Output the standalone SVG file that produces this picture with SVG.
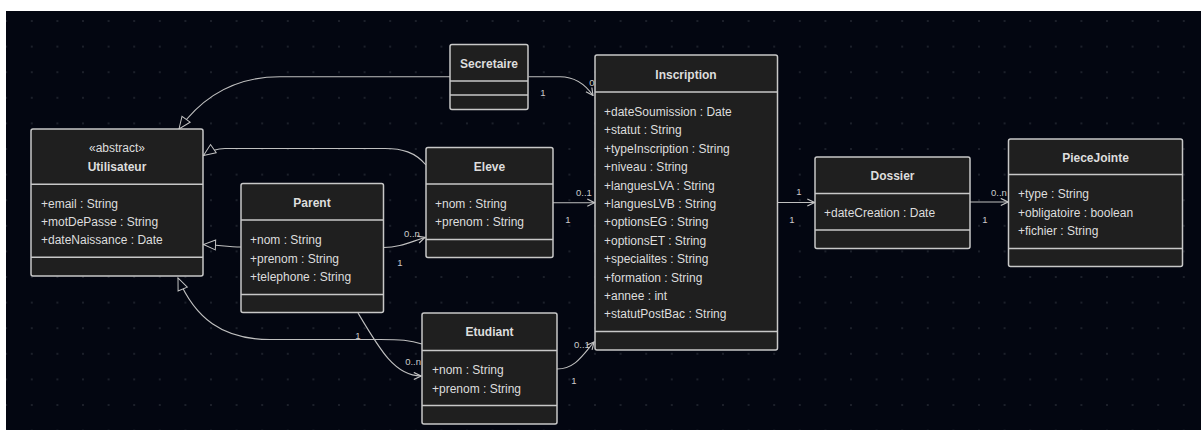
<svg xmlns="http://www.w3.org/2000/svg" width="1201" height="430" viewBox="0 0 1201 430">
<defs>
<pattern id="dots" x="19" y="8.2" width="25.6" height="25.6" patternUnits="userSpaceOnUse">
<circle cx="12.8" cy="12.8" r="0.9" fill="#262a35"/>
</pattern>
<marker id="tri" viewBox="0 0 14 12" refX="13" refY="6" markerWidth="14" markerHeight="12" markerUnits="userSpaceOnUse" orient="auto">
<path d="M1,1 L13,6 L1,11 Z" fill="#030611" stroke="#c4c4c4" stroke-width="1"/>
</marker>
<marker id="arr" viewBox="0 0 10 10" refX="9" refY="5" markerWidth="9" markerHeight="9" markerUnits="userSpaceOnUse" orient="auto">
<path d="M1,1 L9,5 L1,9" fill="none" stroke="#c4c4c4" stroke-width="1.3"/>
</marker>
</defs>
<style>
.bg{fill:#030611}
.node rect{fill:#1f1f1f;stroke:#c8c8c8;stroke-width:1.5}
.node line{stroke:#c8c8c8;stroke-width:1.5}
.t{font-family:"Liberation Sans",Arial,sans-serif;font-size:12px;fill:#dddddd}
.b{font-weight:bold;text-anchor:middle}
.m{text-anchor:middle}
.e{fill:none;stroke:#c0c0c0;stroke-width:1.1}
.inh{marker-end:url(#tri)}
.asc{marker-end:url(#arr)}
.lbl{font-family:"Liberation Sans",Arial,sans-serif;font-size:9.5px;fill:#cccccc}
</style>
<rect x="6" y="11" width="1195" height="419" class="bg"/>
<rect x="6" y="11" width="1195" height="419" fill="url(#dots)"/>

<g id="connectors">
<path class="e inh" d="M450,76.7 L280,76.7 C232,76.7 200,100 179,129"/>
<path class="e inh" d="M426,165 C415,152 402,148.5 385,148.5 L225,148.5 C216,148.5 210,151 203.5,155.5"/>
<path class="e inh" d="M241,247 C228,247 218,245 203.5,244.5"/>
<path class="e inh" d="M422,344 C410,340 400,339.5 380,339.5 L270,339.5 C222,339.5 195,318 178,278"/>
<path class="e asc" d="M358,313 C380,350 395,376 421,376"/>
<path class="e asc" d="M383.5,247.5 C400,247.5 410,242 425,237.5"/>
<path class="e asc" d="M553,202.7 L594.5,202.7"/>
<path class="e asc" d="M557,369 C575,369 583,355 594,342"/>
<path class="e asc" d="M528.5,76.7 L560,76.7 C575,76.7 585,84 593,95.5"/>
<path class="e asc" d="M777.5,202.5 L814.5,202.5"/>
<path class="e asc" d="M970,202 L1008,202"/>
<g id="edge-labels">
<text class="lbl m" x="592" y="86">0</text>
<text class="lbl m" x="543" y="96">1</text>
<text class="lbl m" x="584" y="196">0..1</text>
<text class="lbl m" x="568" y="223">1</text>
<text class="lbl m" x="412" y="237">0..n</text>
<text class="lbl m" x="400" y="266">1</text>
<text class="lbl" x="421" y="365" text-anchor="end">0..n</text>
<text class="lbl m" x="358" y="338.5">1</text>
<text class="lbl m" x="582" y="348">0..1</text>
<text class="lbl m" x="574" y="383.5">1</text>
<text class="lbl m" x="799" y="195">1</text>
<text class="lbl m" x="792" y="223">1</text>
<text class="lbl m" x="999" y="196">0..n</text>
<text class="lbl m" x="985" y="223">1</text>
</g>
</g>

<g id="Utilisateur" class="node">
<rect x="31" y="129" width="172" height="147" rx="2"/>
<line x1="31" y1="184.3" x2="203" y2="184.3"/>
<line x1="31" y1="257.3" x2="203" y2="257.3"/>
<text class="t m" x="117" y="152">«abstract»</text>
<text class="t b" x="117" y="171">Utilisateur</text>
<text class="t" x="41" y="208">+email : String</text>
<text class="t" x="41" y="226">+motDePasse : String</text>
<text class="t" x="41" y="243.5">+dateNaissance : Date</text>
</g>

<g id="Secretaire" class="node">
<rect x="450" y="44.5" width="78" height="65" rx="2"/>
<line x1="450" y1="81" x2="528" y2="81"/>
<line x1="450" y1="95" x2="528" y2="95"/>
<text class="t b" x="489" y="67.5">Secretaire</text>
</g>

<g id="Eleve" class="node">
<rect x="426" y="147.5" width="127" height="110" rx="2"/>
<line x1="426" y1="184" x2="553" y2="184"/>
<line x1="426" y1="239.5" x2="553" y2="239.5"/>
<text class="t b" x="489.5" y="171">Eleve</text>
<text class="t" x="435" y="208">+nom : String</text>
<text class="t" x="435" y="226">+prenom : String</text>
</g>

<g id="Parent" class="node">
<rect x="241" y="183.5" width="142.5" height="129" rx="2"/>
<line x1="241" y1="220" x2="383.5" y2="220"/>
<line x1="241" y1="294.5" x2="383.5" y2="294.5"/>
<text class="t b" x="312" y="206.5">Parent</text>
<text class="t" x="250" y="244">+nom : String</text>
<text class="t" x="250" y="262.5">+prenom : String</text>
<text class="t" x="250" y="281">+telephone : String</text>
</g>

<g id="Etudiant" class="node">
<rect x="422" y="313" width="135" height="111" rx="2"/>
<line x1="422" y1="350.5" x2="557" y2="350.5"/>
<line x1="422" y1="405.5" x2="557" y2="405.5"/>
<text class="t b" x="489.5" y="336">Etudiant</text>
<text class="t" x="432" y="374">+nom : String</text>
<text class="t" x="432" y="393">+prenom : String</text>
</g>

<g id="Inscription" class="node">
<rect x="595" y="55" width="182.5" height="295" rx="2"/>
<line x1="595" y1="92" x2="777.5" y2="92"/>
<line x1="595" y1="331.5" x2="777.5" y2="331.5"/>
<text class="t b" x="686" y="78.5">Inscription</text>
<text class="t" x="604" y="116">+dateSoumission : Date</text>
<text class="t" x="604" y="134.4">+statut : String</text>
<text class="t" x="604" y="152.8">+typeInscription : String</text>
<text class="t" x="604" y="171.2">+niveau : String</text>
<text class="t" x="604" y="189.6">+languesLVA : String</text>
<text class="t" x="604" y="208">+languesLVB : String</text>
<text class="t" x="604" y="226.4">+optionsEG : String</text>
<text class="t" x="604" y="244.8">+optionsET : String</text>
<text class="t" x="604" y="263.2">+specialites : String</text>
<text class="t" x="604" y="281.6">+formation : String</text>
<text class="t" x="604" y="300">+annee : int</text>
<text class="t" x="604" y="318.4">+statutPostBac : String</text>
</g>

<g id="Dossier" class="node">
<rect x="815" y="157" width="155" height="91.5" rx="2"/>
<line x1="815" y1="193.5" x2="970" y2="193.5"/>
<line x1="815" y1="230" x2="970" y2="230"/>
<text class="t b" x="892.5" y="180">Dossier</text>
<text class="t" x="824" y="217">+dateCreation : Date</text>
</g>

<g id="PieceJointe" class="node">
<rect x="1008.5" y="139" width="174" height="127.5" rx="2"/>
<line x1="1008.5" y1="174.5" x2="1182.5" y2="174.5"/>
<line x1="1008.5" y1="248.5" x2="1182.5" y2="248.5"/>
<text class="t b" x="1095.5" y="162">PieceJointe</text>
<text class="t" x="1018" y="198">+type : String</text>
<text class="t" x="1018" y="217">+obligatoire : boolean</text>
<text class="t" x="1018" y="235">+fichier : String</text>
</g>
</svg>
